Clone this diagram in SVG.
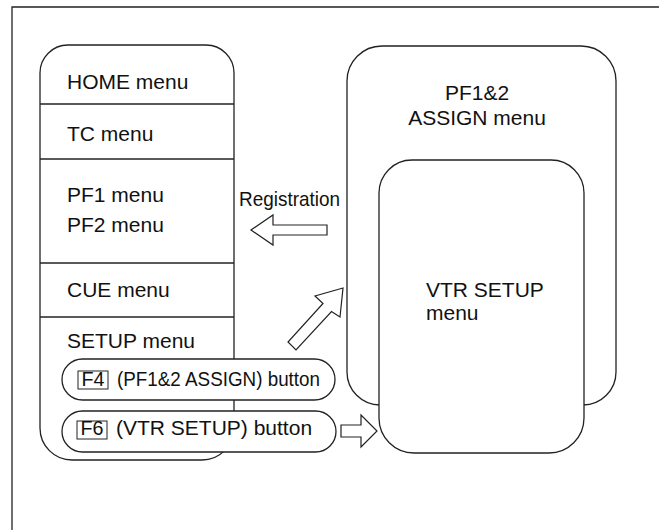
<svg xmlns="http://www.w3.org/2000/svg" width="659" height="530" viewBox="0 0 659 530">
<style>
.ln{fill:none;stroke:#222;stroke-width:1.3}
.bx{fill:#fff;stroke:#222;stroke-width:1.3}
.ar{fill:#fff;stroke:#222;stroke-width:1.2;stroke-linejoin:miter}
text{font-family:"Liberation Sans",Arial,sans-serif;font-size:21px;fill:#111}
.k{font-size:20px}
.key{fill:#fff;stroke:#222;stroke-width:1}
</style>
<rect width="659" height="530" fill="#fff"/>
<g id="frame">
<path class="ln" d="M12,530 L12,7 L659,7" stroke="#444" stroke-width="1.5"/>
</g>
<g id="menu-list">
<path class="bx" d="M40,73 A28,28 0 0 1 68,45 L206,45 A28,28 0 0 1 234,73 L234,428 A32,32 0 0 1 202,460 L72,460 A32,32 0 0 1 40,428 Z"/>
<line class="ln" x1="40" y1="104" x2="234" y2="104"/>
<line class="ln" x1="40" y1="159" x2="234" y2="159"/>
<line class="ln" x1="40" y1="263" x2="234" y2="263"/>
<line class="ln" x1="40" y1="317" x2="234" y2="317"/>
<text x="67" y="89">HOME menu</text>
<text x="67" y="141">TC menu</text>
<text x="67" y="202">PF1 menu</text>
<text x="67" y="232">PF2 menu</text>
<text x="67" y="297">CUE menu</text>
<text x="67" y="348">SETUP menu</text>
</g>
<g id="btn-f4">
<rect class="bx" x="62" y="359" width="273" height="41" rx="20.5"/>
<rect class="key" x="78" y="371" width="30" height="18"/>
<text class="k" x="81.5" y="386" textLength="23" lengthAdjust="spacingAndGlyphs">F4</text>
<text x="117" y="386" textLength="203" lengthAdjust="spacingAndGlyphs">(PF1&amp;2 ASSIGN) button</text>
</g>
<g id="btn-f6">
<rect class="bx" x="62" y="411" width="274" height="41" rx="20.5"/>
<rect class="key" x="77" y="421" width="30" height="18"/>
<text class="k" x="80.5" y="435" textLength="23" lengthAdjust="spacingAndGlyphs">F6</text>
<text x="116" y="435">(VTR SETUP) button</text>
</g>
<g id="pf-assign">
<path class="bx" d="M347,81 A35,35 0 0 1 382,46 L581,46 A35,35 0 0 1 616,81 L616,372 A33,33 0 0 1 583,405 L380,405 A33,33 0 0 1 347,372 Z"/>
<text x="477" y="100" text-anchor="middle">PF1&amp;2</text>
<text x="477" y="125" text-anchor="middle">ASSIGN menu</text>
</g>
<g id="vtr-setup">
<path class="bx" d="M379,193 A33,33 0 0 1 412,160 L551,160 A33,33 0 0 1 584,193 L584,418 A35,35 0 0 1 549,453 L414,453 A35,35 0 0 1 379,418 Z"/>
<text x="426" y="297">VTR SETUP</text>
<text x="426" y="320">menu</text>
</g>
<g id="connectors">
<text x="239" y="206" textLength="101" lengthAdjust="spacingAndGlyphs">Registration</text>
<polygon class="ar" points="251,230 273,215 273,225 327,225 327,235 273,235 273,245"/>
<polygon class="ar" points="343,288 315,296 323,303.5 288,342 296,350 331.5,311.5 340,317"/>
<polygon class="ar" points="341,425 361,425 361,415 377,431 361,447 361,437 341,437"/>
</g>
</svg>
